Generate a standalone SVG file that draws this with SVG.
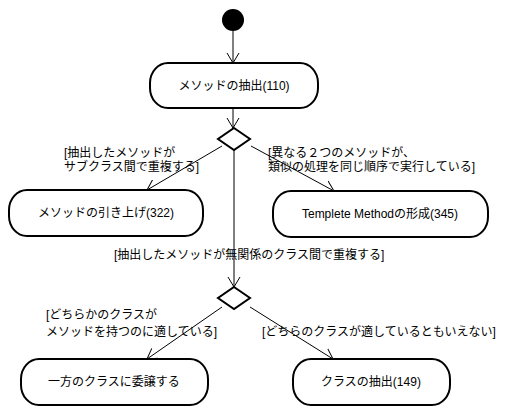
<svg xmlns="http://www.w3.org/2000/svg" width="516" height="415" viewBox="0 0 516 415">
<defs>
<style>
.node rect{fill:#fff;stroke:#000;stroke-width:2}
.node text{font-family:"Liberation Sans","Noto Sans CJK JP",sans-serif;font-size:12px;text-anchor:middle;fill:#000}
.dec polygon{fill:#fff;stroke:#000;stroke-width:2}
.edges line{stroke:#000;stroke-width:1;fill:none}
.lbl{font-family:"Liberation Sans","Noto Sans CJK JP",sans-serif;font-size:12px;fill:#000}
</style>
<marker id="arr" markerWidth="12" markerHeight="14" refX="10" refY="7" orient="auto" markerUnits="userSpaceOnUse">
<path d="M0,1 L10,7 L0,13" fill="none" stroke="#000" stroke-width="1"/>
</marker>
</defs>
<rect width="516" height="415" fill="#fff"/>
<g id="edges" class="edges">
<line x1="233" y1="31" x2="233" y2="63" marker-end="url(#arr)"/>
<line x1="233" y1="108" x2="233" y2="128" marker-end="url(#arr)"/>
<line x1="222" y1="146" x2="147" y2="190" marker-end="url(#arr)"/>
<line x1="251" y1="146" x2="334" y2="191" marker-end="url(#arr)"/>
<line x1="234" y1="150" x2="234" y2="287" marker-end="url(#arr)"/>
<line x1="222" y1="307" x2="147" y2="359" marker-end="url(#arr)"/>
<line x1="250" y1="307" x2="333" y2="359" marker-end="url(#arr)"/>
<text class="lbl" x="64" y="157">[抽出したメソッドが</text>
<text class="lbl" x="64" y="171">サブクラス間で重複する]</text>
<text class="lbl" x="268" y="157">[異なる２つのメソッドが、</text>
<text class="lbl" x="268" y="171">類似の処理を同じ順序で実行している]</text>
<text class="lbl" x="114" y="259">[抽出したメソッドが無関係のクラス間で重複する]</text>
<text class="lbl" x="46" y="319">[どちらかのクラスが</text>
<text class="lbl" x="46" y="336">メソッドを持つのに適している]</text>
<text class="lbl" x="262" y="336">[どちらのクラスが適しているともいえない]</text>
</g>
<g id="start"><circle cx="233" cy="20" r="11" fill="#000"/></g>
<g id="n1" class="node"><rect x="150" y="63" width="168" height="45" rx="18" ry="20"/><text x="234" y="90">メソッドの抽出(110)</text></g>
<g id="d1" class="dec"><polygon points="234,128 250,139 234,150 218,139"/></g>
<g id="n2" class="node"><rect x="9" y="190" width="194" height="46" rx="18" ry="20"/><text x="106" y="217">メソッドの引き上げ(322)</text></g>
<g id="n3" class="node"><rect x="273" y="191" width="215" height="46" rx="18" ry="20"/><text x="380" y="218">Templete Methodの形成(345)</text></g>
<g id="d2" class="dec"><polygon points="234,287 250,298 234,309 218,298"/></g>
<g id="n4" class="node"><rect x="21" y="359" width="187" height="46" rx="18" ry="20"/><text x="114" y="386">一方のクラスに委譲する</text></g>
<g id="n5" class="node"><rect x="293" y="359" width="157" height="46" rx="18" ry="20"/><text x="371" y="386">クラスの抽出(149)</text></g>
</svg>
